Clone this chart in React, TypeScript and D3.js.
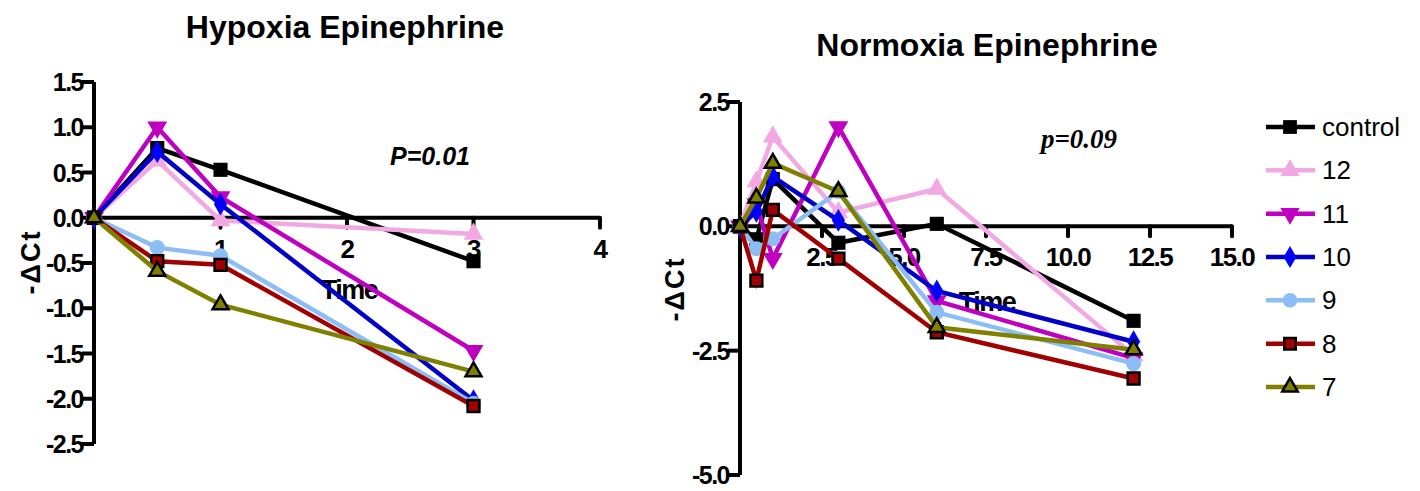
import { useMemo } from 'react';
import * as d3 from 'd3';

const seriesNames = ['control', '12', '11', '10', '9', '8', '7'];
const lineColors = ['#000000', '#f2a9e3', '#c000c0', '#0000c8', '#8dbdf5', '#a00000', '#808000'];
const markerFills = ['#000000', '#f2a9e3', '#c000c0', '#0000ff', '#8dbdf5', '#a00000', '#808000'];
const markerStrokes = ['none', 'none', 'none', 'none', 'none', '#000000', '#000000'];
const markerKinds = ['square', 'up', 'down', 'diamond', 'circle', 'square', 'up'];

// Hypoxia Epinephrine
const hypoxiaTimes = [0, 0.5, 1, 3];
const hypoxiaValues = [
  [0, 0.77, 0.53, -0.48],
  [0, 0.63, -0.03, -0.18],
  [0, 1.0, 0.23, -1.47],
  [0, 0.73, 0.15, -2.02],
  [0, -0.33, -0.42, -2.05],
  [0, -0.48, -0.52, -2.08],
  [0, -0.59, -0.96, -1.7],
];
const hypoxiaXTicks = [1, 2, 3, 4];
const hypoxiaYTicks = [1.5, 1.0, 0.5, 0.0, -0.5, -1.0, -1.5, -2.0, -2.5];

// Normoxia Epinephrine
const normoxiaTimes = [0, 0.5, 1, 3, 6, 12];
const normoxiaValues = [
  [0, -0.26, 0.95, -0.33, 0.05, -1.9],
  [0, 0.9, 1.8, 0.28, 0.75, -2.6],
  [0, 0.45, -0.65, 2.0, -1.5, -2.65],
  [0, 0.3, 1.0, 0.12, -1.3, -2.32],
  [0, -0.45, -0.25, 0.7, -1.73, -2.76],
  [0, -1.09, 0.33, -0.65, -2.13, -3.06],
  [0, 0.57, 1.27, 0.7, -2.03, -2.48],
];
const normoxiaXTicks = [2.5, 5.0, 7.5, 10.0, 12.5, 15.0];
const normoxiaYTicks = [2.5, 0.0, -2.5, -5.0];

const FONT = 'Liberation Sans, Arial, sans-serif';

function symbolPath(kind: string, size: number) {
  const type =
    kind === 'square' ? d3.symbolSquare :
    kind === 'diamond' ? d3.symbolDiamond :
    kind === 'circle' ? d3.symbolCircle : d3.symbolTriangle;
  return d3.symbol().type(type).size(size)() || '';
}

function Marker({ i, x, y, scale = 1 }: { i: number; x: number; y: number; scale?: number }) {
  const kind = markerKinds[i];
  const rot = kind === 'down' ? 180 : 0;
  let sz = 200;
  if (kind === 'diamond') sz = 150;
  if (kind === 'circle') sz = 180;
  if (kind === 'up' || kind === 'down') sz = 170;
  if (markerStrokes[i] !== 'none') sz = kind === 'up' ? 110 : 140;
  return (
    <path
      d={symbolPath(kind, sz * scale)}
      transform={`translate(${x},${y}) rotate(${rot})`}
      fill={markerFills[i]}
      stroke={markerStrokes[i]}
      strokeWidth={markerStrokes[i] === 'none' ? 0 : 2.5}
    />
  );
}

function Panel({
  times, values, xDomain, xRange, yDomain, yRange, xTicks, yTicks, fmtX, timeLabel, yLabel,
}: any) {
  const x = d3.scaleLinear().domain(xDomain).range(xRange);
  const y = d3.scaleLinear().domain(yDomain).range(yRange);
  const line = d3.line<number>().x((_, k) => x(times[k])).y((d) => y(d));
  const y0 = y(0);
  return (
    <g>
      <line x1={x(0)} x2={x(0)} y1={y(yDomain[1])} y2={y(yDomain[0])} stroke="#000" strokeWidth={4} />
      <line x1={x(0)} x2={x(xDomain[1])} y1={y0} y2={y0} stroke="#000" strokeWidth={4} />
      {yTicks.map((t: number) => (
        <g key={'y' + t}>
          <line x1={x(0) - 12} x2={x(0)} y1={y(t)} y2={y(t)} stroke="#000" strokeWidth={4} />
          <text x={x(0) - 11} y={y(t) + 9} textAnchor="end" fontFamily={FONT} fontWeight="bold" fontSize={25} letterSpacing={-1.5}>
            {t.toFixed(1)}
          </text>
        </g>
      ))}
      {xTicks.map((t: number) => (
        <g key={'x' + t}>
          <line x1={x(t)} x2={x(t)} y1={y0} y2={y0 + 10} stroke="#000" strokeWidth={4} strokeLinecap="round" />
          <text x={x(t)} y={y0 + 40} textAnchor="middle" fontFamily={FONT} fontWeight="bold" fontSize={26} letterSpacing={-1.5}>
            {fmtX(t)}
          </text>
        </g>
      ))}
      <text x={timeLabel[0]} y={timeLabel[1]} textAnchor="middle" fontFamily={FONT} fontWeight="bold" fontSize={27} letterSpacing={-1.5}>
        Time
      </text>
      <text
        transform={`translate(${yLabel[0]},${yLabel[1]}) rotate(-90)`}
        textAnchor="middle"
        fontFamily={FONT}
        fontWeight="bold"
        fontSize={27}
        letterSpacing={2}
      >
        -ΔCt
      </text>
      {values.map((vals: number[], i: number) => (
        <g key={seriesNames[i]}>
          <path d={line(vals) || ''} fill="none" stroke={lineColors[i]} strokeWidth={4.5} strokeLinejoin="miter" />
          {vals.map((v, k) => (
            <Marker key={k} i={i} x={x(times[k])} y={y(v)} />
          ))}
        </g>
      ))}
    </g>
  );
}

export default function App() {
  const legendY = useMemo(() => d3.scaleLinear().domain([0, 6]).range([127, 387]), []);
  return (
    <svg width={1420} height={491} style={{ position: 'absolute', left: 0, top: 0, background: '#fff' }}>
      <rect width={1420} height={491} fill="#fff" />
      <text x={345} y={38} textAnchor="middle" fontFamily={FONT} fontWeight="bold" fontSize={32}>
        Hypoxia Epinephrine
      </text>
      <text x={987} y={56} textAnchor="middle" fontFamily={FONT} fontWeight="bold" fontSize={32}>
        Normoxia Epinephrine
      </text>
      <Panel
        times={hypoxiaTimes}
        values={hypoxiaValues}
        xDomain={[0, 4]}
        xRange={[94, 600]}
        yDomain={[-2.5, 1.5]}
        yRange={[444, 82]}
        xTicks={hypoxiaXTicks}
        yTicks={hypoxiaYTicks}
        fmtX={(t: number) => String(t)}
        timeLabel={[349, 299]}
        yLabel={[40, 262]}
      />
      <Panel
        times={normoxiaTimes}
        values={normoxiaValues}
        xDomain={[0, 15]}
        xRange={[740, 1232]}
        yDomain={[-5, 2.5]}
        yRange={[475, 102]}
        xTicks={normoxiaXTicks}
        yTicks={normoxiaYTicks}
        fmtX={(t: number) => t.toFixed(1)}
        timeLabel={[987, 311]}
        yLabel={[684, 289]}
      />
      <text x={430} y={165} textAnchor="middle" fontFamily={FONT} fontWeight="bold" fontStyle="italic" fontSize={25}>
        P=0.01
      </text>
      <text x={1079} y={148} textAnchor="middle" fontFamily="Liberation Serif, Times New Roman, serif" fontWeight="bold" fontStyle="italic" fontSize={27}>
        p=0.09
      </text>
      {seriesNames.map((name, i) => (
        <g key={name}>
          <line x1={1266} x2={1315} y1={legendY(i)} y2={legendY(i)} stroke={lineColors[i]} strokeWidth={4.5} />
          <Marker i={i} x={1290} y={legendY(i)} scale={0.95} />
          <text x={1322} y={legendY(i) + 9} fontFamily={FONT} fontSize={26}>
            {name}
          </text>
        </g>
      ))}
    </svg>
  );
}
